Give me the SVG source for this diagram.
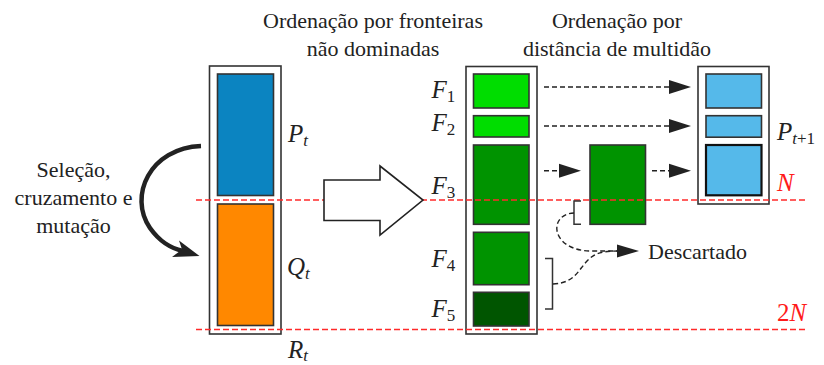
<svg xmlns="http://www.w3.org/2000/svg" width="824" height="365" viewBox="0 0 824 365">
<style>
text{font-family:"Liberation Serif","Tinos","Times New Roman","DejaVu Serif",serif;font-size:22px;fill:#222}
.m{font-style:italic;font-size:25px}
.sub{font-size:17px;font-style:normal}
.subi{font-size:17px;font-style:italic}
.red{fill:#ff1a1a}
.outer{fill:#fff;stroke:#333;stroke-width:1.6}
.in{stroke:#333;stroke-width:1.6}
.red-line{stroke:#ff2a2a;stroke-width:1.4;stroke-dasharray:6 3;fill:none}
.dash{stroke:#222;stroke-width:1.4;stroke-dasharray:5 3;fill:none}
.head{fill:#222}
.brk{fill:none;stroke:#333;stroke-width:1.5}
</style>
<rect width="824" height="365" fill="#fff"/>

<g id="titles">
<text x="373" y="28" text-anchor="middle">Ordenação por fronteiras</text>
<text x="373" y="56" text-anchor="middle">não dominadas</text>
<text x="617" y="28" text-anchor="middle">Ordenação por</text>
<text x="617" y="56" text-anchor="middle">distância de multidão</text>
</g>

<g id="label-selecao">
<text x="73.5" y="177" text-anchor="middle">Seleção,</text>
<text x="73.5" y="205" text-anchor="middle">cruzamento e</text>
<text x="73.5" y="233" text-anchor="middle">mutação</text>
</g>

<g id="Rt">
<rect class="outer" x="209.5" y="66" width="71.5" height="268"/>
<rect id="Pt" class="in" x="217.5" y="74" width="56" height="121.5" fill="#0b84c1"/>
<rect id="Qt" class="in" x="217.5" y="204" width="56" height="121.5" fill="#ff8800"/>
<text class="m" x="288" y="142">P<tspan class="subi" dy="4">t</tspan></text>
<text class="m" x="287" y="275">Q<tspan class="subi" dy="4">t</tspan></text>
<text class="m" x="288" y="358">R<tspan class="subi" dy="3">t</tspan></text>
</g>

<g id="fronts">
<rect class="outer" x="466" y="66.5" width="71" height="267.5"/>
<rect id="F1" class="in" x="473.5" y="74" width="55.5" height="34" fill="#00dd00"/>
<rect id="F2" class="in" x="473.5" y="115.7" width="55.5" height="21.3" fill="#00dd00"/>
<rect id="F3" class="in" x="473.5" y="145" width="55.5" height="79.3" fill="#009300"/>
<rect id="F4" class="in" x="473.5" y="232.3" width="55.5" height="52.4" fill="#009300"/>
<rect id="F5" class="in" x="473.5" y="292.3" width="55.5" height="33.7" fill="#005500"/>
<text class="m" x="431.5" y="98">F<tspan class="sub" dy="4">1</tspan></text>
<text class="m" x="431.5" y="131">F<tspan class="sub" dy="4">2</tspan></text>
<text class="m" x="431.5" y="194">F<tspan class="sub" dy="4">3</tspan></text>
<text class="m" x="431.5" y="267">F<tspan class="sub" dy="4">4</tspan></text>
<text class="m" x="431.5" y="317">F<tspan class="sub" dy="4">5</tspan></text>
</g>

<g id="F3-sorted">
<rect class="in" x="590" y="145" width="55.5" height="79.3" fill="#009300"/>
</g>

<g id="Pt1">
<rect class="outer" x="698" y="66.5" width="71" height="137.5"/>
<rect class="in" x="706" y="74" width="55.5" height="34" fill="#55b9ea"/>
<rect class="in" x="706" y="115.7" width="55.5" height="21.5" fill="#55b9ea"/>
<rect x="706" y="145" width="55.5" height="50.3" fill="#55b9ea" stroke="#111" stroke-width="2.2"/>
<text class="m" x="777" y="140">P<tspan class="subi" dy="4">t</tspan><tspan class="sub">+1</tspan></text>
</g>

<g id="Descartado">
<text x="648" y="259">Descartado</text>
</g>

<g id="limits">
<line class="red-line" x1="196" y1="200" x2="808" y2="200"/>
<line class="red-line" x1="196" y1="329.5" x2="808" y2="329.5"/>
<text class="m red" x="777" y="191">N</text>
<text class="m red" x="777" y="321"><tspan font-style="normal">2</tspan>N</text>
</g>

<g id="connectors">
<path d="M201,146 C150,148 128,196 150,228 C160,242 170,248 183,251" fill="none" stroke="#222" stroke-width="4.5"/>
<polygon class="head" points="199.5,256 179,240.5 182,249.5 172,257"/>
<polygon points="324,180 380,180 380,166 423,200 380,235 380,220.5 324,220.5" fill="#fff" stroke="#222" stroke-width="1.6" stroke-linejoin="miter"/>
<line class="dash" x1="544" y1="87" x2="670" y2="87"/>
<polygon class="head" points="691,87 669,80 669,94"/>
<line class="dash" x1="544" y1="126" x2="670" y2="126"/>
<polygon class="head" points="691,126 669,119 669,133"/>
<line class="dash" x1="544" y1="170.7" x2="560" y2="170.7"/>
<polygon class="head" points="581,170.7 559,163.7 559,177.7"/>
<line class="dash" x1="652" y1="170.7" x2="670" y2="170.7"/>
<polygon class="head" points="691,170.7 669,163.7 669,177.7"/>
<path class="brk" d="M581,201 L574,201 L574,224.3 L581,224.3"/>
<path class="brk" d="M545,258.5 L552.5,258.5 L552.5,309 L545,309"/>
<path class="dash" d="M574,213 C548,214 550,250 590,251 L618,251"/>
<path class="dash" d="M553,284 C575,283 578,270 588,260 C595,253 603,251 618,251"/>
<polygon class="head" points="639,251 617,244.5 617,257.5"/>
</g>
</svg>
